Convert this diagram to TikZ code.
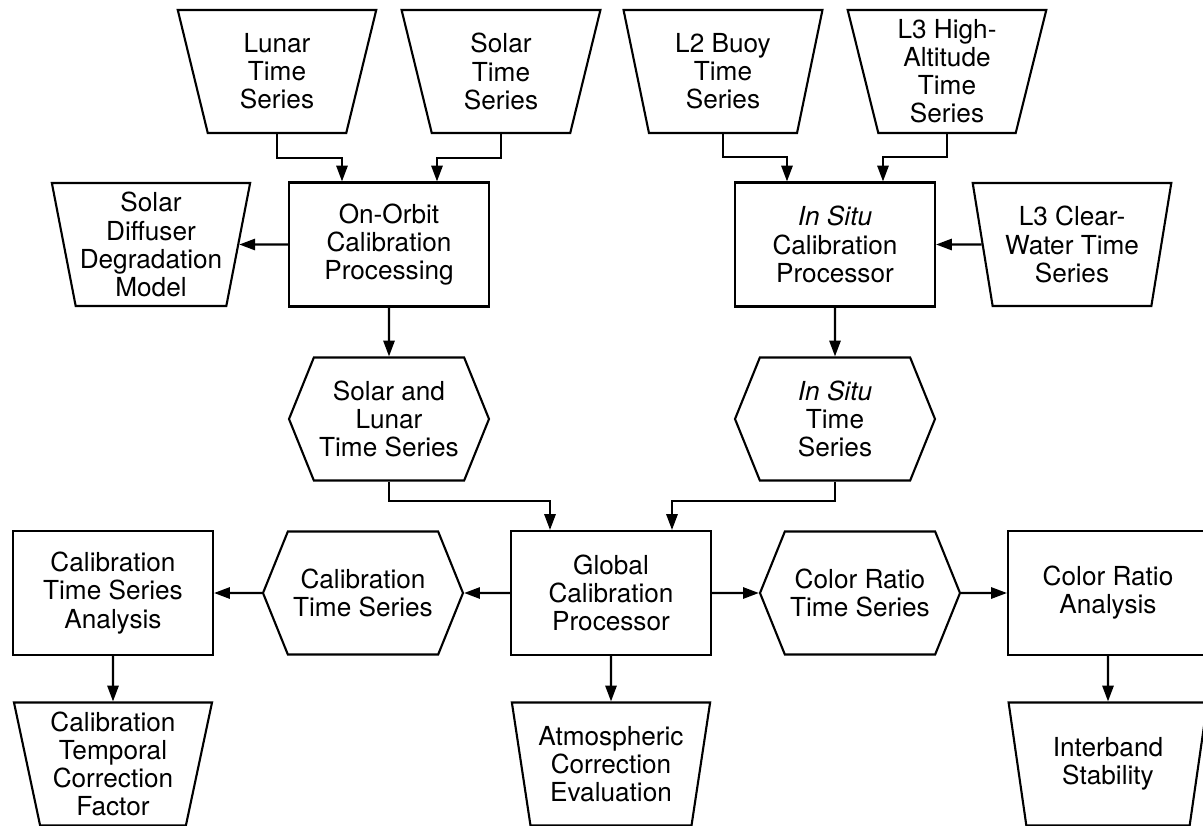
\documentclass[tikz,border=0pt]{standalone}
\usepackage{fontspec}
\setmainfont{TeX Gyre Heros}
\usetikzlibrary{arrows.meta,positioning,shapes.geometric,shapes.symbols}

\begin{document}
\begin{tikzpicture}[->,>={Triangle[length=4.5pt,width=3.2pt]},on grid,semithick,
                    font=\fontsize{7.45}{8}\selectfont]
  \tikzstyle{every node}=[draw,align=center,inner sep=1pt]
  \tikzstyle{proc}=[rectangle,minimum width=2cm,minimum height=1.24cm]
  \tikzstyle{store}=[trapezium,trapezium angle=78,shape border rotate=180,
                     trapezium stretches=true,minimum width=1.99cm,minimum height=1.23cm]
  \tikzstyle{series}=[signal,signal to=east and west,signal pointer angle=136,
                      minimum width=2cm,minimum height=1.23cm]

  \useasboundingbox (0,0) rectangle (12.03,-8.25);

  \node[proc]   (glob) at (6.11,-5.93)                  {Global\\Calibration\\Processor};
  \node[series] (cts)  [left=2.48cm of glob]            {Calibration\\Time Series};
  \node[proc]   (ctsa) [left=2.5cm of cts]              {Calibration\\Time Series\\Analysis};
  \node[series] (crts) [right=2.49cm of glob]           {Color Ratio\\Time Series};
  \node[proc]   (cra)  [right=2.48cm of crts]           {Color Ratio\\Analysis};
  \node[store]  (ctf)  [below=1.71cm of ctsa]           {Calibration\\Temporal\\Correction\\Factor};
  \node[store]  (atm)  [below=1.71cm of glob]           {Atmospheric\\Correction\\Evaluation};
  \node[store]  (intr) [below=1.71cm of cra]            {Interband\\Stability};
  \node[series] (slts) [above left=1.74cm and 2.22cm of glob]  {Solar and\\Lunar\\Time Series};
  \node[series] (ists) [above right=1.74cm and 2.24cm of glob] {\textit{In Situ}\\Time\\Series};
  \node[proc]   (oop)  [above=1.745cm of slts]          {On-Orbit\\Calibration\\Processing};
  \node[proc]   (isp)  [above=1.745cm of ists]          {\textit{In Situ}\\Calibration\\Processor};
  \node[store]  (sdd)  [left=2.38cm of oop]             {Solar\\Diffuser\\Degradation\\Model};
  \node[store]  (l3cw) [right=2.37cm of isp]            {L3 Clear-\\Water Time\\Series};
  \node[store]  (lts)  [above left=1.73cm and 1.12cm of oop]  {Lunar\\Time\\Series};
  \node[store]  (sts)  [above right=1.73cm and 1.12cm of oop] {Solar\\Time\\Series};
  \node[store]  (l2)   [above left=1.73cm and 1.12cm of isp]  {L2 Buoy\\Time\\Series};
  \node[store]  (l3h)  [above right=1.73cm and 1.12cm of isp] {L3 High-\\Altitude\\Time\\Series};

  \draw (lts.south) -- ++(0,-0.24) -| ([xshift=-0.47cm]oop.north);
  \draw (sts.south) -- ++(0,-0.24) -| ([xshift=0.48cm]oop.north);
  \draw (l2.south) -- ++(0,-0.23) -| ([xshift=-0.48cm]isp.north);
  \draw (l3h.south) -- ++(0,-0.23) -| ([xshift=0.48cm]isp.north);
  \draw (slts.south) -- ++(0,-0.19) -| ([xshift=-0.61cm]glob.north);
  \draw (ists.south) -- ++(0,-0.19) -| ([xshift=0.61cm]glob.north);

  \path (oop) edge (sdd)
              edge (slts)
        (isp) edge (ists)
        (l3cw) edge (isp)
        (glob) edge (cts)
               edge (crts)
               edge (atm)
        (cts) edge (ctsa)
        (crts) edge (cra)
        (ctsa) edge (ctf)
        (cra) edge (intr);
\end{tikzpicture}
\end{document}
